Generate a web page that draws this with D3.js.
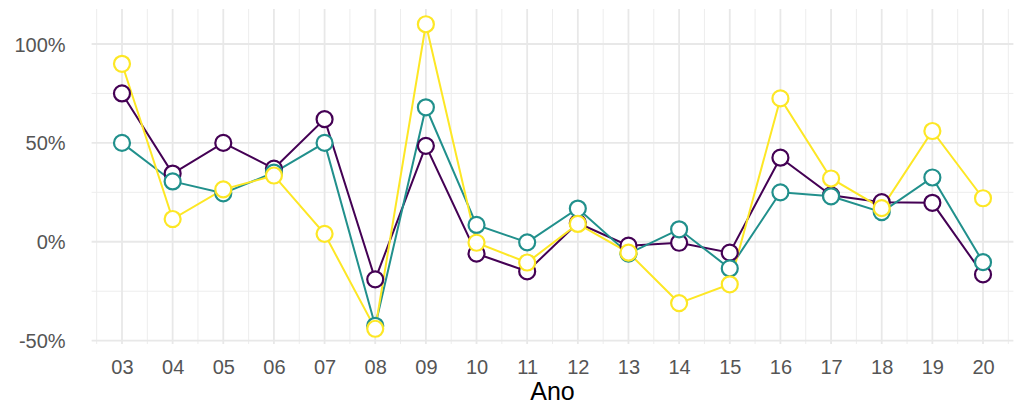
<!DOCTYPE html>
<html lang="pt">
<head>
<meta charset="UTF-8">
<title>Variação por ano</title>
<script src="https://d3js.org/d3.v7.min.js"></script>
<style>
  body { margin: 0; background: #fff; }
  svg text { font-family: "Liberation Sans", Arial, sans-serif; }
</style>
</head>
<body>
<div id="chart"></div>
<script>
// Data (values in %)
const anos = ["03","04","05","06","07","08","09","10","11","12","13","14","15","16","17","18","19","20"];
const serieRoxa    = [75, 34.5, 50, 37, 62, -19, 48.5, -6, -15, 9.5, -2, -0.5, -5.5, 42.5, 23.5, 20, 19.7, -16.5];
const serieVerde   = [50, 30.5, 24.5, 35, 50, -42.5, 68, 8.5, -0.3, 16.8, -6, 6.3, -13.5, 25, 23, 15, 32.5, -10.3];
const serieAmarela = [90, 11.5, 26.5, 33.5, 4, -44, 110, -0.5, -10.5, 9, -5.5, -31, -21.5, 72.5, 32, 17, 56, 22];
const yTicks = [-50, 0, 50, 100];
const yMinor = [-25, 25, 75];

const series = [
  {name: "a", color: "#440154", values: serieRoxa},
  {name: "b", color: "#21908C", values: serieVerde},
  {name: "c", color: "#FDE725", values: serieAmarela}
];

const W = 1022, H = 407;
const panel = {left: 91.6, right: 1013.4, top: 9, bottom: 344};

const svg = d3.select("#chart").append("svg")
  .attr("width", W).attr("height", H);

const x = d3.scalePoint()
  .domain(anos)
  .range([panel.left, panel.right])
  .padding(0.6);

const allVals = series.flatMap(s => s.values);
const lo = d3.min(allVals), hi = d3.max(allVals);
const pad = (hi - lo) * 0.05;
const y = d3.scaleLinear()
  .domain([lo - pad, hi + pad])
  .range([panel.bottom, panel.top]);

// grid
const grid = svg.append("g");
const step = x.step();
// minor vertical lines between categories
anos.forEach((a, i) => {
  [x(a) - step / 2].concat(i === anos.length - 1 ? [x(a) + step / 2] : []).forEach(px => {
    grid.append("line")
      .attr("x1", px).attr("x2", px)
      .attr("y1", panel.top).attr("y2", panel.bottom)
      .attr("stroke", "#ededed").attr("stroke-width", 1);
  });
});
yMinor.forEach(v => {
  grid.append("line")
    .attr("x1", panel.left).attr("x2", panel.right)
    .attr("y1", y(v)).attr("y2", y(v))
    .attr("stroke", "#ededed").attr("stroke-width", 1);
});
anos.forEach(a => {
  grid.append("line")
    .attr("x1", x(a)).attr("x2", x(a))
    .attr("y1", panel.top).attr("y2", panel.bottom)
    .attr("stroke", "#e8e8e8").attr("stroke-width", 1.8);
});
yTicks.forEach(v => {
  grid.append("line")
    .attr("x1", panel.left).attr("x2", panel.right)
    .attr("y1", y(v)).attr("y2", y(v))
    .attr("stroke", "#e8e8e8").attr("stroke-width", 1.8);
});

// axes (labels only, like theme_minimal)
const yAxis = svg.append("g")
  .attr("transform", `translate(${panel.left - 26},0)`)
  .call(d3.axisLeft(y).tickValues(yTicks).tickSize(0).tickFormat(d => d + "%"));
yAxis.select(".domain").remove();
yAxis.selectAll("text")
  .attr("x", 0)
  .attr("dy", "0.35em")
  .style("font-size", "20px")
  .attr("fill", "#555");

const xAxis = svg.append("g")
  .attr("transform", `translate(0,${panel.bottom})`)
  .call(d3.axisBottom(x).tickSize(0));
xAxis.select(".domain").remove();
xAxis.selectAll("text")
  .attr("y", 16)
  .attr("dy", "0.71em")
  .style("font-size", "20px")
  .attr("fill", "#555");

svg.append("text")
  .attr("x", (panel.left + panel.right) / 2)
  .attr("y", 400)
  .attr("text-anchor", "middle")
  .style("font-size", "25px")
  .attr("fill", "#000")
  .text("Ano");

// lines
const line = d3.line()
  .x((d, i) => x(anos[i]))
  .y(d => y(d));

svg.append("g").selectAll("path")
  .data(series)
  .join("path")
  .attr("d", d => line(d.values))
  .attr("fill", "none")
  .attr("stroke", d => d.color)
  .attr("stroke-width", 2);

// points
series.forEach(s => {
  svg.append("g").selectAll("circle")
    .data(s.values)
    .join("circle")
    .attr("cx", (d, i) => x(anos[i]))
    .attr("cy", d => y(d))
    .attr("r", 8)
    .attr("fill", "#fff")
    .attr("stroke", s.color)
    .attr("stroke-width", 2.2);
});
</script>
</body>
</html>
